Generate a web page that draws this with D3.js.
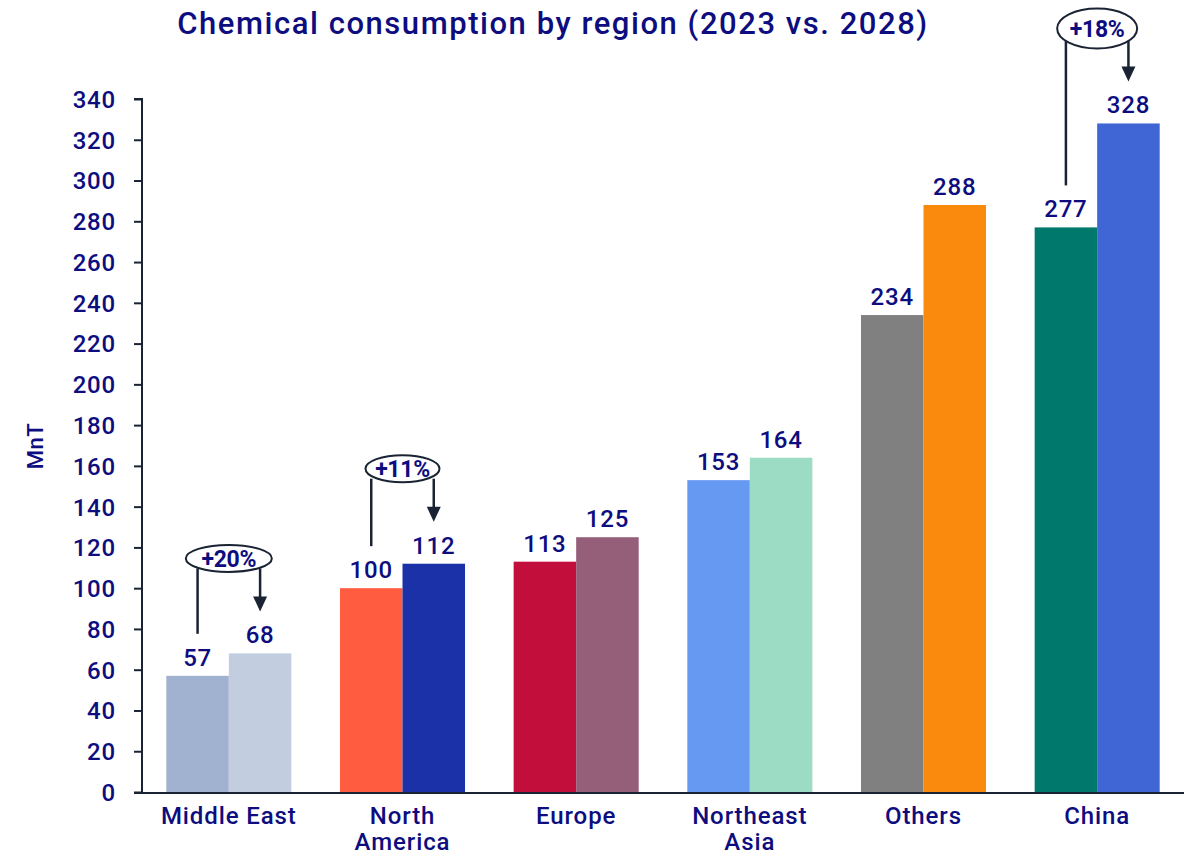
<!DOCTYPE html>
<html><head><meta charset="utf-8">
<script src="https://cdn.jsdelivr.net/npm/d3@7"></script>
<style>body{margin:0;background:#fff;} text{font-family:Roboto,"Noto Sans",sans-serif;}</style>
</head><body>
<svg id="chart" width="1194" height="856"></svg>
<script>
const categories = ["Middle East", "North America", "Europe", "Northeast Asia", "Others", "China"];
const years = ["2023", "2028"];
const values2023 = [57, 100, 113, 153, 234, 277];
const values2028 = [68, 112, 125, 164, 288, 328];
const colors2023 = ["#a0b2cf", "#ff5c40", "#c20e3b", "#6699f2", "#808080", "#00786c"];
const colors2028 = ["#c2cde0", "#1b31a8", "#955f7a", "#9cdcc4", "#f98a0d", "#4066d6"];
const yTicks = d3.range(0, 341, 20);
const growthCats = ["Middle East", "North America", "China"];
const growthLabels = ["+20%", "+11%", "+18%"];
const title = "Chemical consumption by region (2023 vs. 2028)";
const yLabel = "MnT";

// ellipse styling per annotation (sizes only)
const ellipseSize = {"Middle East": [43, 13.5], "North America": [37, 13.5], "China": [40, 20]};

const navy = "#0d0d80";
const axisCol = "#1a2333";
const svg = d3.select("#chart");
const x0 = d3.scaleBand().domain(categories).range([142, 1184]).paddingInner(0.28).paddingOuter(0.14);
const x1 = d3.scaleBand().domain(years).range([0, x0.bandwidth()]);
const y = d3.scaleLinear().domain([0, 340]).range([792, 99]);

// title
svg.append("text").attr("x", 553).attr("y", 34).attr("text-anchor", "middle")
  .attr("font-size", 31).attr("font-weight", 500).attr("letter-spacing", 1.55).attr("fill", navy).text(title);

// y axis label
svg.append("text").attr("transform", "translate(43,446) rotate(-90)").attr("text-anchor", "middle")
  .attr("font-size", 22).attr("font-weight", 500).attr("letter-spacing", 0.5).attr("fill", navy).text(yLabel);

// bars
const data = categories.map((c, i) => ({cat: c, i, vals: [
  {year: "2023", v: values2023[i], color: colors2023[i]},
  {year: "2028", v: values2028[i], color: colors2028[i]}]}));
const g = svg.selectAll("g.grp").data(data).join("g").attr("class", "grp")
  .attr("transform", d => `translate(${x0(d.cat)},0)`);
g.selectAll("rect").data(d => d.vals).join("rect")
  .attr("x", d => x1(d.year)).attr("width", x1.bandwidth())
  .attr("y", d => y(d.v)).attr("height", d => y(0) - y(d.v)).attr("fill", d => d.color);
g.selectAll("text.val").data(d => d.vals).join("text").attr("class", "val")
  .attr("x", d => x1(d.year) + x1.bandwidth() / 2).attr("y", d => y(d.v) - 10)
  .attr("text-anchor", "middle").attr("font-size", 24).attr("font-weight", 500).attr("letter-spacing", 0.8).attr("fill", navy)
  .text(d => d.v);

// y axis
const yAxis = svg.append("g").attr("transform", "translate(142,0)")
  .call(d3.axisLeft(y).tickValues(yTicks).tickSize(8).tickPadding(18));
yAxis.select(".domain").attr("stroke", axisCol).attr("stroke-width", 2).attr("d", `M-8,${y(340)}H0V${y(0)}`);
yAxis.selectAll(".tick line").attr("stroke", axisCol).attr("stroke-width", 2);
yAxis.selectAll(".tick text").attr("font-size", 24).attr("font-weight", 500).attr("fill", navy)
  .attr("font-family", "Roboto").attr("letter-spacing", 0.8).attr("dy", "0.35em");

// x axis line
svg.append("line").attr("x1", 134).attr("x2", 1184).attr("y1", y(0) + 1).attr("y2", y(0) + 1)
  .attr("stroke", axisCol).attr("stroke-width", 2);

// x labels
const wrap = {"North America": ["North", "America"], "Northeast Asia": ["Northeast", "Asia"]};
categories.forEach(c => {
  const lines = wrap[c] || [c];
  const t = svg.append("text").attr("x", x0(c) + x0.bandwidth() / 2).attr("y", 824)
    .attr("text-anchor", "middle").attr("font-size", 24).attr("font-weight", 500)
    .attr("letter-spacing", 0.9).attr("fill", navy);
  lines.forEach((l, k) => t.append("tspan").attr("x", x0(c) + x0.bandwidth() / 2).attr("dy", k ? 26 : 0).text(l));
});

// growth annotations
growthCats.forEach((cat, gi) => {
  const i = categories.indexOf(cat);
  const xa = x0(cat) + x1("2023") + x1.bandwidth() / 2;
  const xb = x0(cat) + x1("2028") + x1.bandwidth() / 2;
  const ya = y(values2023[i]), yb = y(values2028[i]);
  const cy = yb - 95, cx = (xa + xb) / 2;
  const [rx, ry] = ellipseSize[cat];
  const ag = svg.append("g");
  ag.append("line").attr("x1", xa).attr("x2", xa).attr("y1", cy + 10).attr("y2", ya - 42)
    .attr("stroke", axisCol).attr("stroke-width", 2.5);
  ag.append("line").attr("x1", xb).attr("x2", xb).attr("y1", cy + 10).attr("y2", yb - 56)
    .attr("stroke", axisCol).attr("stroke-width", 2.5);
  ag.append("path").attr("d", `M${xb - 7},${yb - 57}L${xb + 7},${yb - 57}L${xb},${yb - 42}Z`).attr("fill", axisCol);
  ag.append("ellipse").attr("cx", cx).attr("cy", cy).attr("rx", rx).attr("ry", ry)
    .attr("fill", "#fff").attr("stroke", axisCol).attr("stroke-width", 2);
  ag.append("text").attr("x", cx).attr("y", cy).attr("dy", "0.36em").attr("text-anchor", "middle")
    .attr("font-size", 23).attr("font-weight", 700).attr("fill", navy).attr("letter-spacing", -0.3).text(growthLabels[gi]);
});
</script>
</body></html>
